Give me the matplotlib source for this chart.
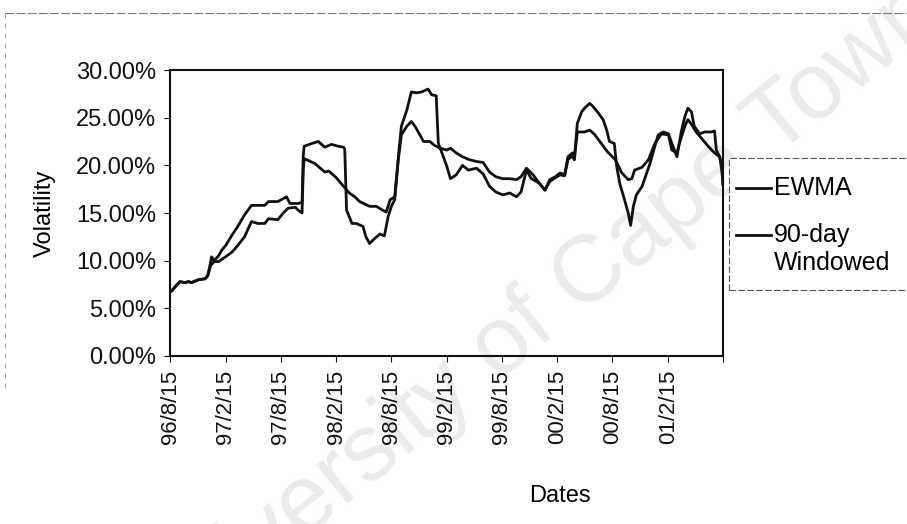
import matplotlib
matplotlib.use("Agg")
import matplotlib.pyplot as plt
import pandas as pd
from matplotlib.lines import Line2D
from matplotlib.patches import Rectangle

# ------------------------------------------------------------ DATA ------------------------------------------------------------#
# 90-day windowed volatility (%)
windowed_dates = [
    "1996-08-15", "1996-08-20", "1996-09-02", "1996-09-17", "1996-10-03", "1996-10-15", "1996-10-25",
    "1996-11-17", "1996-12-09", "1996-12-18", "1996-12-27", "1996-12-30", "1997-01-08", "1997-01-22",
    "1997-02-02", "1997-02-15", "1997-03-08", "1997-03-27", "1997-04-18", "1997-05-11", "1997-06-02",
    "1997-06-24", "1997-07-06", "1997-08-06", "1997-09-04", "1997-09-15", "1997-10-12", "1997-10-25",
    "1997-10-29", "1997-11-01", "1997-11-27", "1997-12-18", "1998-01-08", "1998-01-30", "1998-02-22",
    "1998-03-11", "1998-03-15", "1998-03-21", "1998-03-30", "1998-04-08", "1998-04-22", "1998-05-14",
    "1998-05-24", "1998-06-05", "1998-06-21", "1998-07-09", "1998-07-24", "1998-08-05", "1998-08-16",
    "1998-08-27", "1998-09-08", "1998-09-18", "1998-10-06", "1998-10-21", "1998-11-06", "1998-11-24",
    "1998-12-15", "1998-12-27", "1999-01-11", "1999-01-18", "1999-01-30", "1999-02-15", "1999-02-27",
    "1999-03-18", "1999-04-08", "1999-04-27", "1999-05-24", "1999-06-15", "1999-07-06", "1999-07-27",
    "1999-08-19", "1999-09-11", "1999-10-03", "1999-10-18", "1999-11-05", "1999-11-21", "1999-12-03",
    "1999-12-18", "2000-01-05", "2000-01-21", "2000-02-08", "2000-02-24", "2000-03-10", "2000-03-21",
    "2000-04-05", "2000-04-11", "2000-04-21", "2000-05-05", "2000-05-15", "2000-06-01", "2000-06-11",
    "2000-06-29", "2000-07-15", "2000-07-27", "2000-08-05", "2000-08-21", "2000-08-29", "2000-09-08",
    "2000-09-21", "2000-10-06", "2000-10-14", "2000-10-23", "2000-11-02", "2000-11-21", "2000-12-06",
    "2000-12-17", "2001-01-02", "2001-01-13", "2001-01-30", "2001-02-16", "2001-02-27", "2001-03-16",
    "2001-03-30", "2001-04-11", "2001-04-21", "2001-05-03", "2001-05-12", "2001-05-30", "2001-06-15",
    "2001-07-07", "2001-07-18", "2001-07-24", "2001-08-04", "2001-08-11", "2001-08-15",
]
windowed_vol = [
    6.8, 6.8, 7.3, 7.8, 7.7, 7.8, 7.7,
    8.0, 8.1, 8.5, 9.8, 10.4, 10.0, 10.5,
    11.1, 11.6, 12.7, 13.6, 14.8, 15.8, 15.8,
    15.8, 16.2, 16.2, 16.7, 16.0, 16.0, 16.1,
    21.0, 22.0, 22.3, 22.5, 21.9, 22.2, 22.0,
    21.9, 21.7, 15.3, 14.6, 13.9, 13.9, 13.6,
    12.5, 11.8, 12.3, 12.8, 12.6, 14.6, 15.7,
    16.4, 20.9, 24.1, 25.8, 27.7, 27.6, 27.7,
    28.0, 27.4, 27.3, 22.3, 21.3, 19.9, 18.6,
    19.0, 20.0, 19.5, 19.7, 19.1, 17.8, 17.2,
    16.9, 17.1, 16.7, 17.2, 19.5, 18.6, 18.4,
    18.1, 17.4, 18.5, 18.8, 19.2, 19.0, 20.9,
    21.3, 20.6, 24.4, 25.6, 26.0, 26.5, 26.2,
    25.5, 24.8, 23.7, 22.5, 22.3, 19.9, 18.1,
    16.7, 15.0, 13.7, 15.7, 16.9, 17.8, 19.2,
    20.2, 22.0, 23.2, 23.5, 23.3, 22.3, 20.9,
    23.5, 25.1, 26.0, 25.6, 24.1, 23.3, 23.5,
    23.5, 23.6, 21.6, 20.9, 19.5, 18.0,
]

# EWMA volatility (%)
ewma_dates = [
    "1996-08-15", "1996-08-20", "1996-09-02", "1996-09-17", "1996-10-03", "1996-10-15", "1996-10-25",
    "1996-11-17", "1996-12-09", "1996-12-18", "1996-12-27", "1997-01-08", "1997-01-22", "1997-02-14",
    "1997-03-08", "1997-03-27", "1997-04-18", "1997-05-11", "1997-06-02", "1997-06-24", "1997-07-06",
    "1997-08-06", "1997-08-24", "1997-09-09", "1997-10-03", "1997-10-12", "1997-10-25", "1997-10-29",
    "1997-11-01", "1997-12-06", "1998-01-08", "1998-01-21", "1998-02-12", "1998-03-03", "1998-03-30",
    "1998-04-17", "1998-05-03", "1998-06-05", "1998-06-27", "1998-07-18", "1998-07-30", "1998-08-12",
    "1998-08-27", "1998-09-08", "1998-09-18", "1998-10-06", "1998-10-21", "1998-11-02", "1998-11-18",
    "1998-11-30", "1998-12-21", "1999-01-05", "1999-01-24", "1999-02-15", "1999-02-27", "1999-03-18",
    "1999-04-08", "1999-04-30", "1999-05-24", "1999-06-15", "1999-07-06", "1999-07-27", "1999-08-19",
    "1999-09-11", "1999-10-03", "1999-10-18", "1999-11-05", "1999-11-27", "1999-12-18", "2000-01-05",
    "2000-01-21", "2000-02-08", "2000-02-24", "2000-03-10", "2000-03-21", "2000-04-05", "2000-04-11",
    "2000-04-21", "2000-05-15", "2000-06-01", "2000-06-18", "2000-07-09", "2000-07-30", "2000-08-24",
    "2000-09-15", "2000-10-06", "2000-10-18", "2000-10-27", "2000-11-21", "2000-12-12", "2001-01-02",
    "2001-01-24", "2001-02-16", "2001-02-27", "2001-03-16", "2001-03-24", "2001-04-11", "2001-04-21",
    "2001-05-03", "2001-05-18", "2001-06-06", "2001-06-27", "2001-07-18", "2001-08-04", "2001-08-11",
    "2001-08-15",
]
ewma_vol = [
    6.8, 6.8, 7.3, 7.8, 7.7, 7.8, 7.7,
    8.0, 8.1, 8.4, 9.5, 9.9, 9.9, 10.4,
    10.9, 11.6, 12.5, 14.1, 13.9, 13.9, 14.4,
    14.3, 15.0, 15.5, 15.6, 15.3, 15.0, 19.5,
    20.7, 20.2, 19.3, 19.4, 18.8, 18.1, 17.1,
    16.7, 16.2, 15.7, 15.7, 15.3, 15.1, 16.4,
    16.7, 20.6, 23.2, 24.1, 24.6, 24.1, 23.2,
    22.5, 22.5, 22.1, 21.8, 21.6, 21.8, 21.3,
    20.9, 20.6, 20.4, 20.3, 19.3, 18.8, 18.6,
    18.6, 18.5, 18.8, 19.7, 19.0, 18.1, 17.4,
    18.3, 18.7, 19.0, 18.9, 20.6, 21.0, 20.6,
    23.5, 23.5, 23.7, 23.2, 22.3, 21.4, 20.6,
    19.2, 18.5, 18.6, 19.5, 19.8, 20.6, 22.3,
    23.3, 23.2, 21.6, 21.3, 22.3, 24.1, 24.8,
    24.3, 23.5, 22.8, 22.0, 21.3, 20.9, 19.9,
    18.0,
]

# x axis: one tick every six months, the last one (right edge) left blank
tick_dates = ["1996-08-15", "1997-02-15", "1997-08-15", "1998-02-15", "1998-08-15", "1999-02-15",
              "1999-08-15", "2000-02-15", "2000-08-15", "2001-02-15", "2001-08-15"]
tick_labels = ["96/8/15", "97/2/15", "97/8/15", "98/2/15", "98/8/15", "99/2/15",
               "99/8/15", "00/2/15", "00/8/15", "01/2/15", ""]
y_ticks = [0, 5, 10, 15, 20, 25, 30]

# ------------------------------------------------------------ PLOT ------------------------------------------------------------#
plt.rcParams['font.family'] = ['Liberation Sans', 'DejaVu Sans']
W, H = 907, 524
fig = plt.figure(figsize=(W / 100, H / 100), dpi=100)
fig.patch.set_facecolor('white')

# plot area in pixel positions of the reference
left, right, top, bottom = 170, 723, 70, 356
ax = fig.add_axes([left / W, 1 - bottom / H, (right - left) / W, (bottom - top) / H])
ax.patch.set_alpha(0)

line_color = '#111111'
ax.plot(pd.to_datetime(ewma_dates), ewma_vol, color=line_color, lw=2.0, label='EWMA')
ax.plot(pd.to_datetime(windowed_dates), windowed_vol, color=line_color, lw=2.0, label='90-day Windowed')

ax.set_xlim(pd.Timestamp(tick_dates[0]), pd.Timestamp(tick_dates[-1]))
ax.set_ylim(0, 30)
ax.set_xticks(pd.to_datetime(tick_dates))
ax.set_xticklabels(tick_labels, rotation=90, fontsize=16)
ax.set_yticks(y_ticks)
ax.set_yticklabels(['{:.2f}%'.format(v) for v in y_ticks], fontsize=17)
ax.tick_params(axis='both', direction='out', length=4, width=0.8, colors='#111111', pad=6)
for s in ax.spines.values():
    s.set_linewidth(1.5)
    s.set_color('#111111')

# axis titles
fig.text(45 / W, 1 - 213 / H, 'Volatility', rotation=90, ha='center', va='center', fontsize=17)
fig.text(560 / W, 1 - 496 / H, 'Dates', ha='center', va='center', fontsize=17)

# legend box (drawn by hand so the handle sits on the first line of "90-day Windowed")
fig.add_artist(Rectangle((729 / W, 1 - 290 / H), 200 / W, 132 / H, transform=fig.transFigure,
                         facecolor='white', edgecolor='#555555', lw=0.8, ls=(0, (6, 2))))
fig.add_artist(Line2D([736 / W, 771 / W], [1 - 188 / H, 1 - 188 / H], transform=fig.transFigure,
                      color=line_color, lw=2.0))
fig.add_artist(Line2D([736 / W, 771 / W], [1 - 235 / H, 1 - 235 / H], transform=fig.transFigure,
                      color=line_color, lw=2.0))
fig.text(774 / W, 1 - 188 / H, 'EWMA', ha='left', va='center', fontsize=18)
fig.text(774 / W, 1 - 235 / H, '90-day', ha='left', va='center', fontsize=18)
fig.text(774 / W, 1 - 263 / H, 'Windowed', ha='left', va='center', fontsize=18)

# outer chart border of the scan
fig.add_artist(Line2D([5 / W, 1], [1 - 13 / H, 1 - 13 / H], transform=fig.transFigure,
                      color='#777777', lw=0.8, ls=(0, (8, 2))))
fig.add_artist(Line2D([5 / W, 5 / W], [1 - 13 / H, 0.25], transform=fig.transFigure,
                      color='#999999', lw=0.6, ls=(0, (6, 6))))

# watermark
fig.text(535 / W, 1 - 320 / H, 'University of Cape Town', rotation=39, rotation_mode='anchor',
         ha='center', va='center', fontsize=68, color='#ebebeb', zorder=-1)

fig.savefig('out.png', dpi=100)
